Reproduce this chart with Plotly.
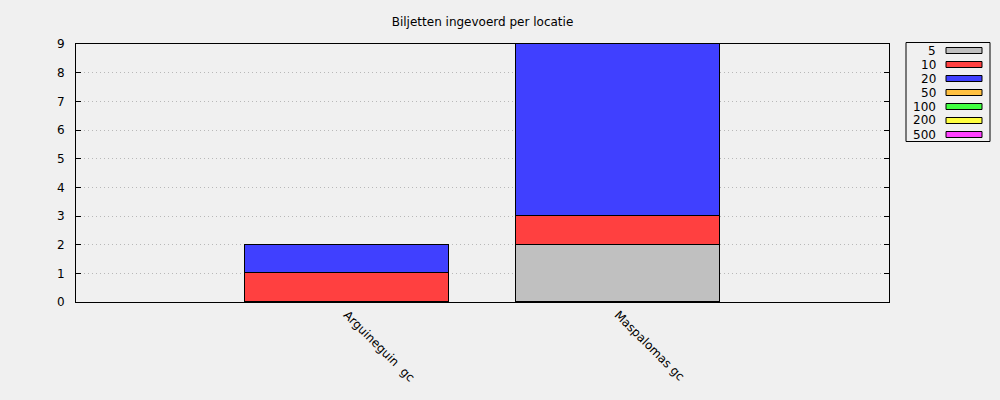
import plotly.graph_objects as go

categories = ["Arguineguin  gc", "Maspalomas gc"]
series_names = ["5", "10", "20", "50", "100", "200", "500"]
series_colors = ["#c0c0c0", "#ff4040", "#4040ff", "#ffc040", "#40ff40", "#ffff40", "#ff40ff"]
values = {
    "5":   [0, 2],
    "10":  [1, 1],
    "20":  [1, 6],
    "50":  [0, 0],
    "100": [0, 0],
    "200": [0, 0],
    "500": [0, 0],
}
y_ticks = list(range(0, 10))
title_text = "Biljetten ingevoerd per locatie"

W, H = 1000, 400
L, R, T, B = 76, 111, 44, 98
pw, ph = W - L - R, H - T - B

FONT = "DejaVu Sans"

fig = go.Figure()
for name, color in zip(series_names, series_colors):
    fig.add_trace(go.Bar(
        x=[0, 1], y=values[name], name=name,
        marker=dict(color=color, line=dict(color="black", width=1)),
        width=0.75, showlegend=False,
    ))

# legend drawn as shapes/annotations (gnuplot style: label left, swatch right)
def px(x):
    return (x - L) / pw

def py(y):
    return (H - B - y) / ph

shapes = [dict(type="rect", xref="paper", yref="paper",
               x0=px(906), x1=px(990), y0=py(141.5), y1=py(42.5),
               line=dict(color="black", width=1), fillcolor="rgba(0,0,0,0)")]
annotations = []
for i, (name, color) in enumerate(zip(series_names, series_colors)):
    cy = 50.5 + 14 * i
    shapes.append(dict(type="rect", xref="paper", yref="paper",
                       x0=px(946), x1=px(982), y0=py(cy + 3), y1=py(cy - 3),
                       line=dict(color="black", width=1), fillcolor=color))
    annotations.append(dict(text=name, xref="paper", yref="paper",
                            x=px(938), y=py(cy), xanchor="right", yanchor="middle",
                            showarrow=False, font=dict(family=FONT, size=12, color="black")))

fig.update_layout(
    width=W, height=H,
    margin=dict(l=L, r=R, t=T, b=B, pad=0),
    paper_bgcolor="#f0f0f0", plot_bgcolor="#f0f0f0",
    barmode="stack", bargap=0,
    title=dict(text=title_text, x=(393 + 572) / 2 / W, xanchor="center",
               y=1 - 22 / H, yanchor="middle",
               font=dict(family=FONT, size=12, color="black")),
    font=dict(family=FONT, size=12, color="black"),
    shapes=shapes, annotations=annotations,
    xaxis=dict(range=[-1, 2], tickmode="array", tickvals=[0, 1], ticktext=categories,
               tickangle=45, showgrid=False, zeroline=False,
               showline=True, linecolor="black", linewidth=1, mirror=True,
               ticks="", ticklen=0),
    yaxis=dict(range=[0, 9], tickmode="array", tickvals=y_ticks,
               showgrid=True, gridcolor="#b8b8b8", griddash="1px,3px", gridwidth=1,
               zeroline=False, showline=True, linecolor="black", linewidth=1,
               mirror="ticks", ticks="inside", ticklen=5, tickcolor="black",
               ticklabelstandoff=8),
)

fig.write_html("out.html")
